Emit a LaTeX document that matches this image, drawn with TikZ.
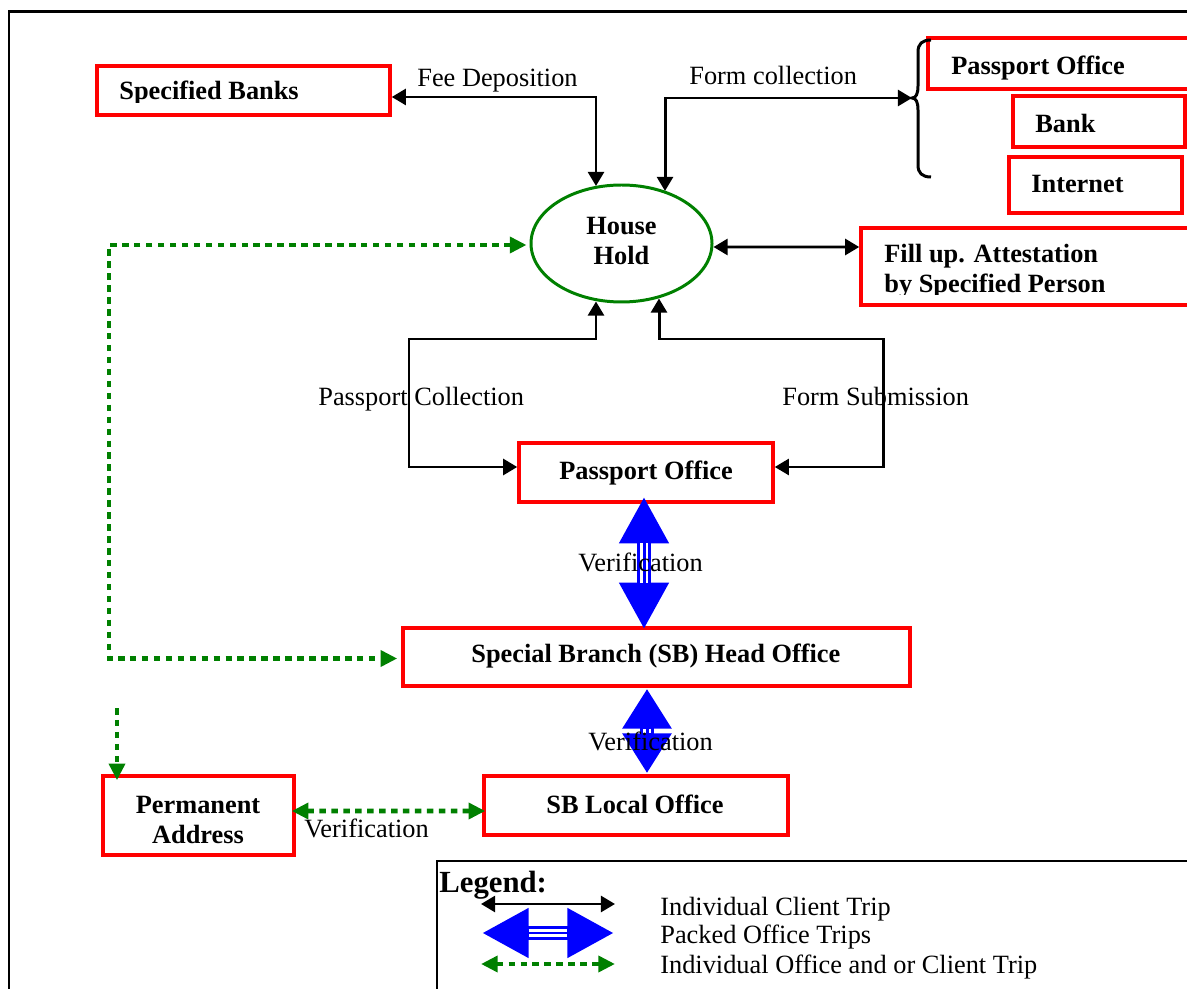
\documentclass[tikz,border=0pt]{standalone}
\usepackage{fontspec}
\setmainfont{Liberation Serif}
\usetikzlibrary{arrows.meta,calc,shapes.geometric}
\definecolor{rd}{RGB}{255,0,0}
\definecolor{gr}{RGB}{0,128,0}
\definecolor{bl}{RGB}{0,0,255}
\newcommand\pxl{0.02cm}
\newcommand\blueArrow[4]{%
  \draw[bl, line width=8.5pt, {Triangle[length=#3,width=#4]}-{Triangle[length=#3,width=#4]}] #1 -- #2;
  \draw[white, line width=5.1pt, shorten <=#3, shorten >=#3] #1 -- #2;
  \draw[bl, line width=1.7pt, shorten <=#3, shorten >=#3] #1 -- #2;}
\begin{document}
\begin{tikzpicture}[x=0.02cm,y=-0.02cm,
  box/.style={draw=rd, line width=2pt, rectangle, inner sep=0},
  lbl/.style={inner sep=0, font=\fontsize{15}{17}\selectfont},
  blbl/.style={inner sep=0, font=\fontsize{15}{17}\selectfont\bfseries},
  blk/.style={line width=1.7pt, {Triangle[length=8pt,width=9pt]}-{Triangle[length=8pt,width=9pt]}},
  grn/.style={draw=gr, line width=2.8pt, dash pattern=on 3.7pt off 3.1pt},
  grnboth/.style={grn, {Triangle[length=9.5pt,width=9pt]}-{Triangle[length=9.5pt,width=9pt]}},
  grnend/.style={grn, -{Triangle[length=9.5pt,width=9pt]}}
]
\useasboundingbox (0,0) rectangle (1187,989);
% outer frame and legend frame
\draw[line width=1.7pt] (9,1000) -- (9,12) -- (1200,12);
\draw[line width=1.2pt] (437,1000) -- (437,861) -- (1200,861);

% boxes
\node[box, minimum width=293*\pxl, minimum height=49*\pxl] (sbank) at (243.5,90.5) {};
\node[box, minimum width=272*\pxl, minimum height=51*\pxl] (potr) at (1064,63.5) {};
\node[box, minimum width=172*\pxl, minimum height=51*\pxl] (bank) at (1099,121.5) {};
\node[box, minimum width=173*\pxl, minimum height=56*\pxl] (inet) at (1095.5,185) {};
\node[box, minimum width=339*\pxl, minimum height=77*\pxl] (fill) at (1030.5,266.5) {};
\node[box, minimum width=254*\pxl, minimum height=59*\pxl] (po) at (646,472.5) {};
\node[box, minimum width=507*\pxl, minimum height=58*\pxl] (sbh) at (656.5,657) {};
\node[box, minimum width=304*\pxl, minimum height=59*\pxl] (sbl) at (636,805.5) {};
\node[box, minimum width=191*\pxl, minimum height=79*\pxl] (perm) at (198.5,815.5) {};
\node[ellipse, draw=gr, line width=1.7pt, inner sep=0, minimum width=181*\pxl, minimum height=117*\pxl] (hh) at (621.5,243.5) {};

% box texts
\begin{scope}
  \clip (97,60) rectangle (390,102.5);
  \node[blbl, anchor=base west] (tsbank) at (119,100) {Specified Banks};
\end{scope}
\node[blbl, anchor=base west] (tpotr) at (951,75) {Passport Office};
\node[blbl, anchor=base west] (tbank) at (1035,133) {Bank};
\node[blbl, anchor=base west] (tinet) at (1031,193) {Internet};
\node[blbl, anchor=base west] (tfill1) at (884,263) {Fill up. Attestation};
\begin{scope}
  \clip (862,270) rectangle (1200,295);
  \node[blbl, anchor=base west] (tfill2) at (884,293) {by Specified Person};
\end{scope}
\node[blbl, anchor=base] (thh1) at (621.5,235) {House};
\node[blbl, anchor=base] (thh2) at (621.5,265) {Hold};
\node[blbl, anchor=base west] (tpo) at (559,480) {Passport Office};
\node[blbl, anchor=base west] (tsbh) at (471,663) {Special Branch (SB) Head Office};
\node[blbl, anchor=base west] (tsbl) at (546,813) {SB Local Office};
\node[blbl, anchor=base] (tperm1) at (198,813) {Permanent};
\node[blbl, anchor=base] (tperm2) at (198,843) {Address};

% brace
\coordinate (brtip) at (912,98);
\draw[line width=1.7pt] (931,40) .. controls (922,40) and (918,44) .. (918,52) -- (918,86)
  .. controls (918,94) and (916,98) .. (brtip)
  .. controls (916,98) and (918,102) .. (918,110) -- (918,165)
  .. controls (918,173) and (922,177) .. (931,177);

% black connectors
\draw[blk] ($(sbank.east)+(0,6.5)$) -| ($(hh.north)+(-25.5,2.5)$);
\draw[blk] ($(hh.north)+(43.5,7.5)$) |- (brtip);
\draw[blk] ($(hh.east)+(0,3.5)$) -- ($(fill.west)+(0,-19.5)$);
\coordinate (pcA) at (409,339);
\coordinate (fsA) at (883,339);
\draw[blk] ($(hh.south)+(-25.5,-2)$) |- (pcA) |- ($(po.west)+(0,-5.5)$);
\draw[blk] ($(hh.south)+(37.5,-5)$) |- (fsA) |- ($(po.east)+(0,-5.5)$);

% green connectors
\coordinate (gA) at (109,450);
\coordinate (gB) at (117,708);
\draw[grnboth] ($(hh.west)+(-3,1.5)$) -| (gA) |- ($(sbh.west)+(-4,1.5)$);
\draw[grnend] (gB) -- ($(perm.north -| gB)+(0,6)$);
\draw[grnboth] ($(perm.east)+(-4,-4.5)$) -- ($(sbl.west)+(3,5.5)$);

% blue packed trips
\blueArrow{($(po.south)+(-2,-7)$)}{($(sbh.north)+(-12.5,3)$)}{26.6pt}{26.6pt}
\blueArrow{($(sbh.south)+(-9.5,1)$)}{($(sbl.north)+(11,-1)$)}{22.7pt}{26.6pt}

% connector labels
\node[lbl, anchor=base west] (lfee) at (417,87) {Fee Deposition};
\node[lbl, anchor=base west] (lform) at (689,85) {Form collection};
\node[lbl, anchor=base west] (lpc) at (318,406) {Passport Collection};
\node[lbl, anchor=base west] (lfs) at (782,406) {Form Submission};
\node[lbl, anchor=base west] (lv1) at (578,572) {Verification};
\node[lbl, anchor=base west] (lv2) at (588,750) {Verification};
\node[lbl, anchor=base west] (lv3) at (304,837) {Verification};

% legend
\node[inner sep=0, font=\fontsize{17.5}{20}\selectfont\bfseries, anchor=base west] (leg) at (439,892) {Legend:};
\coordinate (k1a) at (481,904); \coordinate (k1b) at (615,904);
\coordinate (k2a) at (482,933); \coordinate (k2b) at (614,933);
\coordinate (k3a) at (481,964); \coordinate (k3b) at (615,964);
\draw[blk] (k1a) -- (k1b);
\blueArrow{(k2a)}{(k2b)}{26.6pt}{26.6pt}
\draw[grnboth] (k3a) -- (k3b);
\node[lbl, anchor=base west] (lk1) at (660,915) {Individual Client Trip};
\node[lbl, anchor=base west] (lk2) at (660,943) {Packed Office Trips};
\node[lbl, anchor=base west] (lk3) at (660,973) {Individual Office and or Client Trip};
\end{tikzpicture}
\end{document}
